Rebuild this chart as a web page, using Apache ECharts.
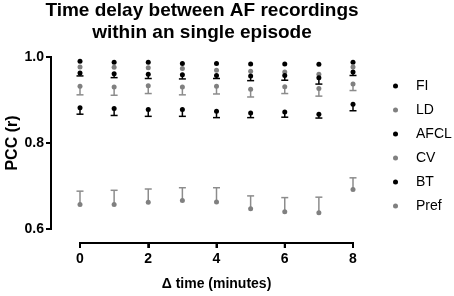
<!DOCTYPE html>
<html>
<head>
<meta charset="utf-8">
<script src="https://cdn.jsdelivr.net/npm/echarts@6/dist/echarts.min.js"></script>
<style>html,body{margin:0;padding:0;background:#fff;}#c{width:454px;height:296px;}</style>
</head>
<body>
<div id="c"></div>
<script>
var times = [0, 1, 2, 3, 4, 5, 6, 7, 8];
var xTicks = [0, 2, 4, 6, 8];
var yTicks = [0.6, 0.8, 1.0];
var seriesNames = ['FI', 'LD', 'AFCL', 'CV', 'BT', 'Pref'];
var FI   = [0.990, 0.988, 0.988, 0.985, 0.985, 0.984, 0.984, 0.983, 0.988];
var LD   = [0.977, 0.976, 0.975, 0.973, 0.969, 0.967, 0.965, 0.960, 0.977];
var AFCL = [0.963, 0.961, 0.960, 0.959, 0.957, 0.956, 0.957, 0.952, 0.965];
var CV   = [0.932, 0.930, 0.933, 0.930, 0.932, 0.925, 0.931, 0.927, 0.937];
var BT   = [0.882, 0.880, 0.878, 0.878, 0.874, 0.870, 0.872, 0.867, 0.890];
var Pref = [0.657, 0.657, 0.662, 0.666, 0.663, 0.647, 0.640, 0.638, 0.692];
// error bar end points (one-sided)
var AFCL_err = [0.956, 0.952, 0.950, 0.949, 0.950, 0.945, 0.946, 0.937, 0.957];
var CV_err   = [0.912, 0.911, 0.915, 0.912, 0.914, 0.907, 0.915, 0.909, 0.922];
var BT_err   = [0.867, 0.864, 0.862, 0.862, 0.859, 0.859, 0.860, 0.858, 0.875];
var Pref_err = [0.688, 0.690, 0.693, 0.696, 0.696, 0.677, 0.673, 0.674, 0.719];

var BLACK = '#000000', GRAY = '#808080', GRAYBAR = '#8c8c8c';
var FONT = '"Liberation Sans", Arial, sans-serif';
var values = {FI: FI, LD: LD, AFCL: AFCL, CV: CV, BT: BT, Pref: Pref};
var errs = {AFCL: AFCL_err, CV: CV_err, BT: BT_err, Pref: Pref_err};
var colors = {FI: BLACK, LD: GRAY, AFCL: BLACK, CV: GRAY, BT: BLACK, Pref: GRAY};
var barColors = {AFCL: BLACK, CV: GRAYBAR, BT: BLACK, Pref: GRAYBAR};

var series = [];
Object.keys(errs).forEach(function (n) {
  series.push({
    name: n + ' error', type: 'custom', xAxisIndex: 0, yAxisIndex: 0,
    data: times.map(function (t, i) { return [t, values[n][i], errs[n][i]]; }),
    renderItem: function (params, api) {
      var p0 = api.coord([api.value(0), api.value(1)]);
      var p1 = api.coord([api.value(0), api.value(2)]);
      var c = barColors[n];
      return {type: 'group', children: [
        {type: 'line', shape: {x1: p0[0], y1: p0[1], x2: p1[0], y2: p1[1]}, style: {stroke: c, lineWidth: 1.5}},
        {type: 'line', shape: {x1: p1[0] - 3.5, y1: p1[1], x2: p1[0] + 3.5, y2: p1[1]}, style: {stroke: c, lineWidth: 1.5}}
      ]};
    }
  });
});
seriesNames.forEach(function (n) {
  series.push({
    name: n, type: 'scatter', symbol: 'circle', symbolSize: 5, xAxisIndex: 0, yAxisIndex: 0,
    itemStyle: {color: colors[n], opacity: 1},
    data: times.map(function (t, i) { return [t, values[n][i]]; })
  });
});

var axisFont = {fontFamily: FONT, fontSize: 14, fontWeight: 'bold', color: '#000'};
var axLineX = {show: true, onZero: false, lineStyle: {color: '#000', width: 2}};
var axLineY = {show: true, onZero: false, lineStyle: {color: '#000', width: 2}};
var axTickX = {show: true, length: 5, lineStyle: {color: '#000', width: 2}};
var axTickY = {show: true, length: 5, lineStyle: {color: '#000', width: 2}};
var chart = echarts.init(document.getElementById('c'));
chart.setOption({
  animation: false,
  title: {
    text: 'Time delay between AF recordings\nwithin an single episode',
    left: 202, top: 0, padding: 0, textAlign: 'center',
    textStyle: {fontFamily: FONT, fontSize: 19, fontWeight: 'bold', color: '#000', lineHeight: 22}
  },
  legend: {
    data: seriesNames, orient: 'vertical', left: 388, top: 73,
    itemWidth: 5, itemHeight: 5, itemGap: 8, icon: 'circle',
    textStyle: {fontFamily: FONT, fontSize: 14, color: '#000', lineHeight: 16, padding: [0, 0, 0, 13]}
  },
  grid: [
    {left: 80, right: 101, top: 57, bottom: 67, outerBoundsMode: 'none'},
    {left: 51, width: 10, top: 57, bottom: 67, outerBoundsMode: 'none'},
    {left: 80, right: 101, top: 57, bottom: 53, outerBoundsMode: 'none'}
  ],
  xAxis: [
    {gridIndex: 0, type: 'value', min: 0, max: 8, show: false},
    {gridIndex: 1, type: 'value', min: 0, max: 1, show: false},
    {gridIndex: 2, type: 'value', min: 0, max: 8, interval: 2,
      name: 'Δ time (minutes)', nameLocation: 'middle', nameGap: 34, nameTextStyle: axisFont,
      axisLine: axLineX, axisTick: axTickX,
      axisLabel: {fontFamily: FONT, fontSize: 14, fontWeight: 'bold', color: '#000', margin: 9,
        formatter: function (val) { return xTicks.indexOf(val) >= 0 ? String(val) : ''; }},
      splitLine: {show: false}}
  ],
  yAxis: [
    {gridIndex: 0, type: 'value', min: 0.6, max: 1.0, show: false},
    {gridIndex: 1, type: 'value', min: 0.6, max: 1.0, interval: 0.2,
      name: 'PCC (r)', nameLocation: 'middle', nameGap: 29, nameRotate: 90,
      nameTextStyle: {fontFamily: FONT, fontSize: 16, fontWeight: 'bold', color: '#000'},
      axisLine: axLineY, axisTick: axTickY,
      axisLabel: {fontFamily: FONT, fontSize: 14, fontWeight: 'bold', color: '#000', margin: 7,
        formatter: function (val) {
          for (var i = 0; i < yTicks.length; i++) { if (Math.abs(yTicks[i] - val) < 1e-6) return yTicks[i].toFixed(1); }
          return '';
        }},
      splitLine: {show: false}},
    {gridIndex: 2, type: 'value', min: 0, max: 1, show: false}
  ],
  series: series
});

// Axis lines and ticks as filled rects, positioned through the library's scales
var TICK = 5, W = 2;
var fill = {fill: '#000'};
var g = [];
var yFinder = {xAxisIndex: 1, yAxisIndex: 1};
var xFinder = {xAxisIndex: 2, yAxisIndex: 2};
var yLo = chart.convertToPixel(yFinder, [0, yTicks[0]]);
var yHi = chart.convertToPixel(yFinder, [0, yTicks[yTicks.length - 1]]);
g.push({type: 'rect', z: 100, shape: {x: yLo[0] - W / 2, y: yHi[1] - W / 2, width: W, height: yLo[1] - yHi[1] + W}, style: fill});
yTicks.forEach(function (t) {
  var p = chart.convertToPixel(yFinder, [0, t]);
  g.push({type: 'rect', z: 100, shape: {x: p[0] - TICK, y: p[1] - W / 2, width: TICK, height: W}, style: fill});
});
var xLo = chart.convertToPixel(xFinder, [xTicks[0], 0]);
var xHi = chart.convertToPixel(xFinder, [xTicks[xTicks.length - 1], 0]);
g.push({type: 'rect', z: 100, shape: {x: xLo[0] - W / 2, y: xLo[1] - W / 2, width: xHi[0] - xLo[0] + W, height: W}, style: fill});
xTicks.forEach(function (t) {
  var p = chart.convertToPixel(xFinder, [t, 0]);
  g.push({type: 'rect', z: 100, shape: {x: p[0] - W / 2, y: p[1], width: W, height: TICK}, style: fill});
});
chart.setOption({graphic: {elements: g}});
</script>
</body>
</html>
